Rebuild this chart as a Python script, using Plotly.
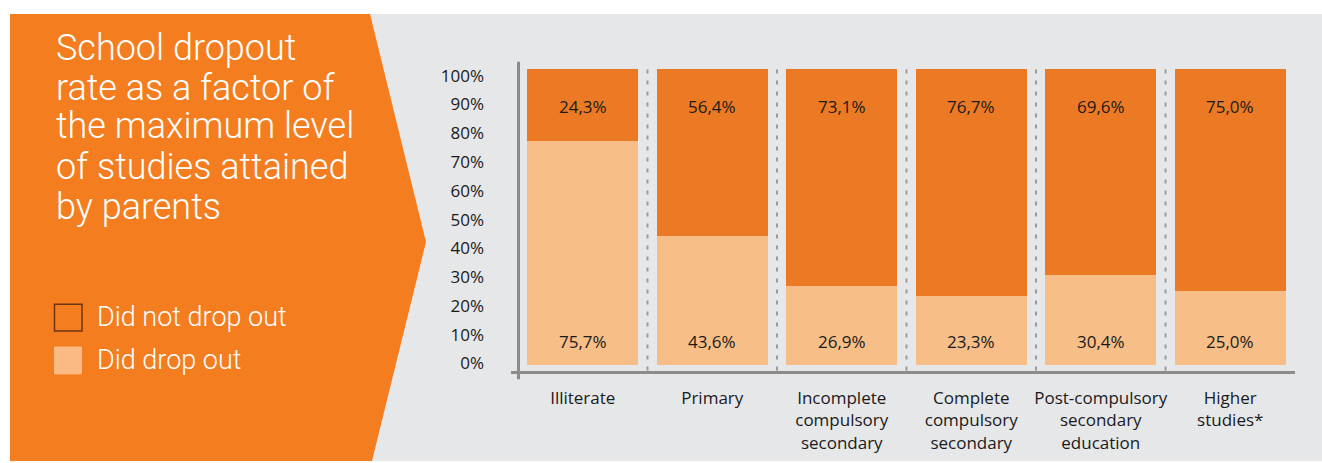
import plotly.graph_objects as go

W, H = 1322, 463

categories = ["Illiterate", "Primary", "Incomplete<br>compulsory<br>secondary",
              "Complete<br>compulsory<br>secondary", "Post-compulsory<br>secondary<br>education",
              "Higher<br>studies*"]
did_drop_out = [75.7, 43.6, 26.9, 23.3, 30.4, 25.0]
did_not_drop_out = [24.3, 56.4, 73.1, 76.7, 69.6, 75.0]
y_tick_values = [0, 10, 20, 30, 40, 50, 60, 70, 80, 90, 100]
y_tick_labels = ["0%", "10%", "20%", "30%", "40%", "50%", "60%", "70%", "80%", "90%", "100%"]
title_lines = ["School dropout", "rate as a factor of", "the maximum level",
               "of studies attained", "by parents"]
legend_labels = ["Did not drop out", "Did drop out"]

DARK = "#ec7a24"
LIGHT = "#f7be87"
PANEL = "#f47d20"
GRAY_BG = "#e6e7e9"
AXIS = "#8c8c8c"
TXT = "#1a1a1a"


def px(x):
    return x / W


def py(y):
    return 1 - y / H


def fmt(v):
    return f"{v:.1f}".replace(".", ",") + "%"


fig = go.Figure()
fig.add_trace(go.Bar(x=categories, y=did_drop_out, name=legend_labels[1],
                     marker=dict(color=LIGHT, line=dict(width=0)), width=0.86))
fig.add_trace(go.Bar(x=categories, y=did_not_drop_out, name=legend_labels[0],
                     marker=dict(color=DARK, line=dict(width=0)), width=0.86))
# empty trace so that the tick-label axis (yaxis2) is drawn
fig.add_trace(go.Scatter(x=[], y=[], yaxis="y2", showlegend=False, hoverinfo="skip"))

shapes = []
# gray background
shapes.append(dict(type="rect", xref="paper", yref="paper", x0=px(370), x1=1, y0=0, y1=py(14),
                   fillcolor=GRAY_BG, line=dict(width=0), layer="below"))
# orange arrow panel
path = (f"M {px(10)} {py(14)} L {px(370)} {py(14)} L {px(426)} {py(243)} "
        f"L {px(372)} {py(463)} L {px(10)} {py(463)} Z")
shapes.append(dict(type="path", xref="paper", yref="paper", path=path,
                   fillcolor=PANEL, line=dict(width=0), layer="below"))
# dashed separators
for i in range(len(categories) - 1):
    shapes.append(dict(type="line", xref="x", yref="y", x0=i + 0.5, x1=i + 0.5, y0=-1.7, y1=101.7,
                       line=dict(color="#9a9a9a", width=2, dash="4px,7px")))
# axis lines
shapes.append(dict(type="line", xref="paper", yref="paper", x0=px(518.5), x1=px(518.5),
                   y0=py(62), y1=py(381), line=dict(color=AXIS, width=3)))
shapes.append(dict(type="line", xref="paper", yref="paper", x0=px(511), x1=px(1295),
                   y0=py(374), y1=py(374), line=dict(color=AXIS, width=3)))
# legend swatches
shapes.append(dict(type="rect", xref="paper", yref="paper", x0=px(54.5), x1=px(82), y0=py(305.5), y1=py(332.5),
                   fillcolor=PANEL, line=dict(color="#6b3510", width=1.5)))
shapes.append(dict(type="rect", xref="paper", yref="paper", x0=px(54), x1=px(82), y0=py(348), y1=py(376),
                   fillcolor="#fbb984", line=dict(width=0)))

annotations = []
title_centers = [48, 88, 127, 168, 208]
for line, yc in zip(title_lines, title_centers):
    annotations.append(dict(xref="paper", yref="paper", x=px(54), y=py(yc), text=line, showarrow=False,
                            xanchor="left", yanchor="middle",
                            font=dict(family="Roboto", size=36, color="white", weight=300)))
for lab, yc in zip(legend_labels, [318, 362]):
    annotations.append(dict(xref="paper", yref="paper", x=px(95), y=py(yc), text=lab, showarrow=False,
                            xanchor="left", yanchor="middle",
                            font=dict(family="Roboto", size=27, color="white", weight=300)))
# value labels
for i, (a, b) in enumerate(zip(did_drop_out, did_not_drop_out)):
    annotations.append(dict(xref="x", yref="y", x=i, y=87.2, text=fmt(b), showarrow=False,
                            font=dict(family="Open Sans", size=17, color=TXT)))
    annotations.append(dict(xref="x", yref="y", x=i, y=8.0, text=fmt(a), showarrow=False,
                            font=dict(family="Open Sans", size=17, color=TXT)))

fig.update_layout(
    autosize=True, margin=dict(l=0, r=0, t=0, b=0),
    paper_bgcolor="white", plot_bgcolor="rgba(0,0,0,0)",
    barmode="stack", showlegend=False, bargap=0.14,
    shapes=shapes, annotations=annotations,
    xaxis=dict(domain=[px(518), px(1295)], showgrid=False, zeroline=False, showline=False,
               ticks="", tickfont=dict(family="Open Sans", size=17, color=TXT),
               ticklabelstandoff=14, fixedrange=True),
    yaxis=dict(domain=[py(374), py(63)], range=[-2.35, 102.0], showgrid=False, zeroline=False,
               showline=False, ticks="", showticklabels=False, fixedrange=True),
    # tick-label axis (labels in the original are spaced slightly tighter than the bars)
    yaxis2=dict(domain=[py(374), py(63)], range=[-3.11, 104.5], overlaying="y", anchor="x",
                side="left", showgrid=False, zeroline=False, showline=False, ticks="",
                tickmode="array", tickvals=y_tick_values, ticktext=y_tick_labels,
                tickfont=dict(family="Open Sans", size=17, color=TXT), ticklabelstandoff=33,
                fixedrange=True),
)

post = (
    "document.documentElement.style.margin='0';"
    "document.documentElement.style.height='100%';"
    "document.body.style.margin='0';"
    "document.body.style.height='100%';"
    "document.body.style.overflow='hidden';"
    "var gd=document.getElementById('{plot_id}');"
    "gd.style.width='100vw';gd.style.height='100vh';"
    "Plotly.Plots.resize(gd);"
)

fig.write_html("out.html", config={"displayModeBar": False, "responsive": True},
               default_width="100%", default_height="100%", post_script=post)
